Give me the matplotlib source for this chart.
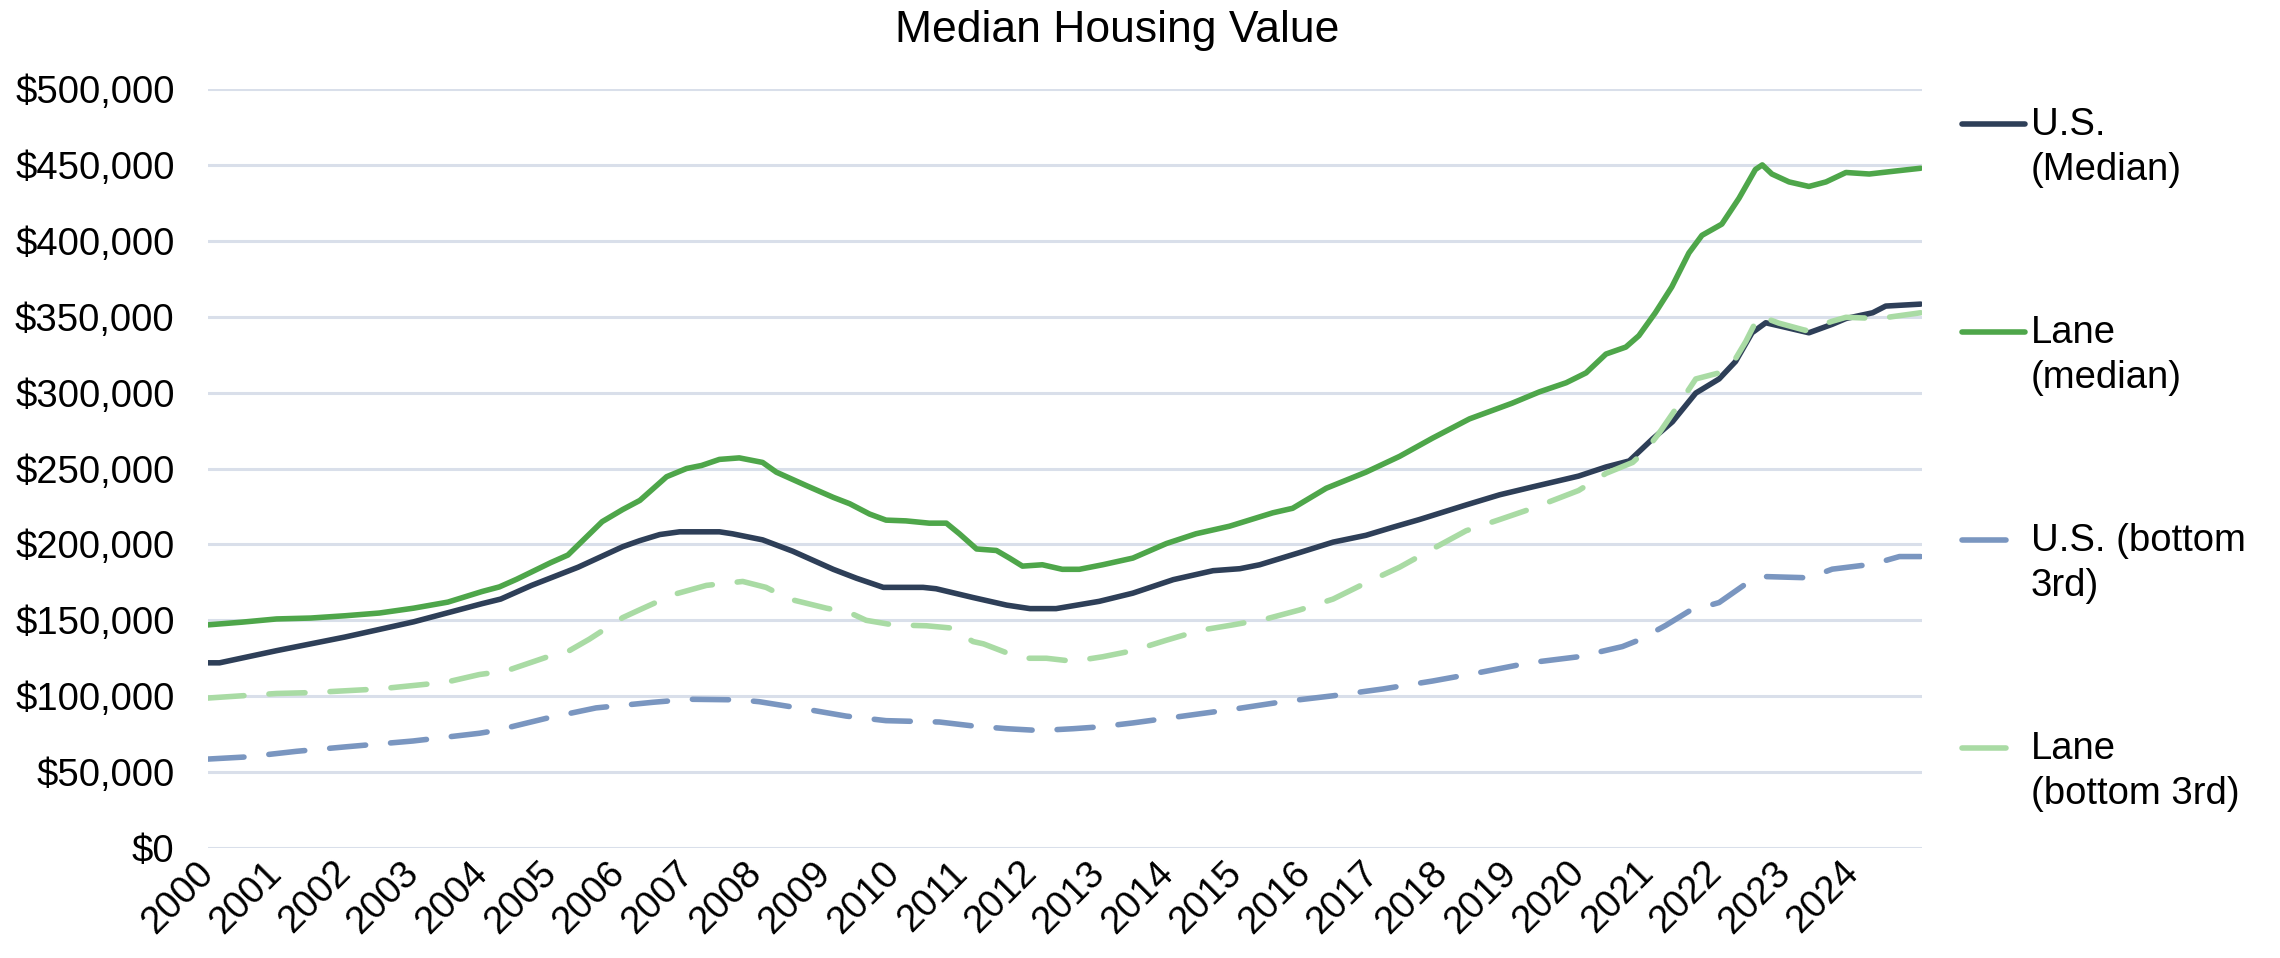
import matplotlib.pyplot as plt
from matplotlib.lines import Line2D
from matplotlib.ticker import FuncFormatter, MultipleLocator

plt.rcParams['font.family'] = ['Liberation Sans', 'DejaVu Sans']

# Data (decimal year, dollars)
us_med_x = [2000.0, 2000.17, 2001.0, 2002.0, 2003.0, 2004.0, 2004.27, 2004.72, 2005.4, 2006.05,
            2006.3, 2006.59, 2006.88, 2007.46, 2007.65, 2008.09, 2008.53, 2009.12, 2009.46, 2009.85,
            2010.43, 2010.62, 2011.16, 2011.65, 2011.99, 2012.37, 2013.0, 2013.49, 2014.08, 2014.66,
            2015.05, 2015.34, 2015.92, 2016.41, 2016.89, 2017.28, 2017.67, 2018.35, 2018.84, 2019.33,
            2019.99, 2020.39, 2020.73, 2021.07, 2021.36, 2021.7, 2022.04, 2022.28, 2022.52, 2022.72,
            2023.01, 2023.35, 2023.69, 2023.89, 2024.28, 2024.47, 2024.98]
us_med = [122000, 122000, 130000, 139000, 149000, 161000, 164000, 173000, 185000, 198500,
          202500, 206500, 208300, 208300, 207000, 203000, 195500, 183600, 177700, 171700,
          171700, 170800, 165000, 160000, 157700, 157700, 162500, 167900, 176800, 182700,
          184000, 186600, 194600, 201500, 206000, 211300, 216400, 226000, 232700, 238000,
          245000, 251000, 255000, 269500, 280800, 299700, 309000, 320500, 339400, 346000,
          343000, 339400, 345000, 348800, 352600, 357000, 358300]

lane_med_x = [2000.0, 2000.5, 2001.0, 2001.5, 2002.0, 2002.5, 2003.0, 2003.5, 2004.0, 2004.25,
              2004.5, 2005.0, 2005.25, 2005.5, 2005.75, 2006.05, 2006.3, 2006.69, 2006.98, 2007.2,
              2007.46, 2007.75, 2008.09, 2008.29, 2008.73, 2009.12, 2009.36, 2009.65, 2009.89, 2010.18,
              2010.52, 2010.77, 2010.96, 2011.21, 2011.5, 2011.69, 2011.88, 2012.17, 2012.46, 2012.71,
              2013.05, 2013.49, 2013.98, 2014.41, 2014.9, 2015.53, 2015.82, 2016.31, 2016.89, 2017.38,
              2017.86, 2018.4, 2019.02, 2019.42, 2019.81, 2020.1, 2020.39, 2020.68, 2020.87, 2021.11,
              2021.35, 2021.6, 2021.79, 2022.08, 2022.33, 2022.57, 2022.67, 2022.81, 2023.06, 2023.35,
              2023.6, 2023.89, 2024.23, 2024.62, 2024.98]
lane_med = [147000, 148800, 150900, 151500, 153000, 154800, 158000, 162000, 169000, 172000,
            177000, 188000, 193000, 204000, 215000, 223000, 229000, 244600, 250000, 252000,
            256000, 257000, 254000, 247600, 238700, 231000, 226800, 220000, 216000, 215500,
            214000, 214000, 207000, 197000, 196000, 191000, 185700, 186600, 183600, 183600,
            186600, 191000, 200600, 207000, 212000, 220800, 223800, 237000, 247600, 258000,
            270000, 282700, 293000, 300500, 306500, 313000, 325400, 330000, 337500, 352600,
            369600, 392000, 403600, 411000, 428000, 447000, 450000, 444000, 438800, 435800,
            438800, 445000, 444000, 446000, 447800]

us_low_x = [2000.0, 2000.56, 2001.29, 2002.02, 2002.99, 2003.96, 2004.2, 2004.93, 2005.66, 2006.49,
            2007.02, 2007.75, 2008.04, 2008.73, 2009.31, 2009.89, 2010.67, 2011.16, 2011.65, 2012.13,
            2012.62, 2013.0, 2013.49, 2014.22, 2014.95, 2015.68, 2016.41, 2017.14, 2017.86, 2018.59,
            2019.27, 2019.99, 2020.63, 2020.87, 2021.26, 2021.6, 2022.04, 2022.43, 2022.72, 2023.35,
            2023.69, 2024.28, 2024.67, 2024.98]
us_low = [58600, 60000, 63700, 66700, 70500, 75600, 77400, 85400, 92300, 96000,
          98000, 97600, 96400, 91400, 86900, 83900, 83000, 80400, 78600, 77400,
          78600, 79800, 82400, 86900, 91400, 96400, 100300, 104800, 110000, 116000,
          122000, 126000, 132700, 137000, 146600, 156000, 161700, 174000, 178800, 178000,
          183700, 187000, 192000, 192000]

lane_low_x = [2000.0, 2001.0, 2001.52, 2002.5, 2003.47, 2003.96, 2004.35, 2004.93, 2005.27, 2005.56,
              2006.05, 2006.3, 2006.79, 2007.27, 2007.8, 2008.14, 2008.48, 2009.02, 2009.36, 2009.6,
              2009.99, 2010.48, 2010.82, 2011.16, 2011.31, 2011.65, 2011.94, 2012.23, 2012.62, 2013.05,
              2013.49, 2013.98, 2014.47, 2014.95, 2015.44, 2015.92, 2016.41, 2016.89, 2017.38, 2017.86,
              2018.35, 2018.84, 2019.3, 2019.99, 2020.39, 2020.78, 2020.97, 2021.16, 2021.45, 2021.7,
              2022.04, 2022.23, 2022.43, 2022.62, 2022.91, 2023.3, 2023.69, 2023.89, 2024.37, 2024.98]
lane_low = [98800, 101800, 102400, 104800, 109200, 114300, 116700, 125600, 130000, 137500,
            151800, 157000, 167000, 173000, 175600, 171700, 164000, 158000, 155000, 150000,
            147000, 146400, 145000, 136000, 134500, 128600, 125000, 125000, 123000, 126000,
            130000, 136900, 143400, 147000, 151000, 156800, 164000, 174700, 185000, 197000,
            209000, 216400, 223500, 235500, 246800, 254000, 262000, 273000, 292000, 309000,
            313000, 318600, 333700, 350700, 345800, 341000, 347000, 349600, 348800, 352600]

labels = ['U.S.\n(Median)', 'Lane\n(median)', 'U.S. (bottom\n3rd)', 'Lane\n(bottom 3rd)']
colors = ['#2E3F58', '#4EA64A', '#7A96C0', '#A9DBA4']
years = list(range(2000, 2025))

DPI = 100
fig = plt.figure(figsize=(2280 / DPI, 958 / DPI), dpi=DPI)
ax = fig.add_axes([0.0912, 0.1148, 0.7518, 0.7923])

lw = 4
dash = (6.5, 4.5)
series = [(us_med_x, us_med, '-'), (lane_med_x, lane_med, '-'),
          (us_low_x, us_low, '--'), (lane_low_x, lane_low, '--')]
for (xs, ys, ls), c in zip(series, colors):
    line, = ax.plot(xs, ys, color=c, lw=lw, solid_capstyle='round', solid_joinstyle='round')
    if ls == '--':
        line.set_dashes(dash)
        line.set_dash_capstyle('round')

ax.set_xlim(2000, 2025)
ax.set_ylim(0, 500000)
ax.yaxis.set_major_locator(MultipleLocator(50000))
ax.yaxis.set_major_formatter(FuncFormatter(lambda v, p: f'${v:,.0f}'))
ax.set_xticks(years)
ax.set_xticklabels([str(y) for y in years], rotation=45, ha='right', va='center',
                   rotation_mode='anchor')
ax.tick_params(axis='both', length=0, labelsize=27.5, colors='black')
ax.tick_params(axis='y', pad=24)
ax.tick_params(axis='x', pad=14)
ax.grid(axis='y', color='#D9DFEA', lw=2.2)
ax.set_axisbelow(True)
for s in ax.spines.values():
    s.set_visible(False)

fig.text(0.49, 0.968, 'Median Housing Value', ha='center', va='center', fontsize=32)

# legend on the right, line sample next to first text row
leg_y = [124, 332, 540, 748]
for lab, c, (xs, ys, ls), yy in zip(labels, colors, series, leg_y):
    yf = 1 - yy / 958
    x1 = 2025 if ls == '-' else 2006
    l = Line2D([1962 / 2280, x1 / 2280], [yf, yf], transform=fig.transFigure,
               color=c, lw=lw, solid_capstyle='round')
    fig.add_artist(l)
    fig.text(2031 / 2280, yf + 0.018, lab, ha='left', va='top', fontsize=27.5,
             linespacing=1.32)

fig.savefig('out.png', dpi=DPI)
